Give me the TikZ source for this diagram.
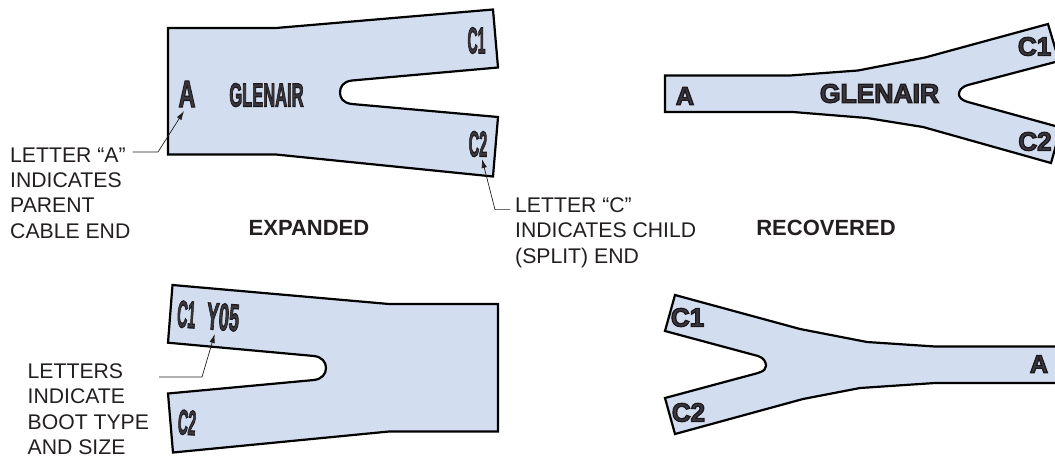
\documentclass[tikz,border=0pt]{standalone}
\usepackage{fontspec}
\usepackage{graphicx}
\setmainfont{Liberation Sans}
\usetikzlibrary{arrows.meta}
\definecolor{boot}{HTML}{D2DEEF}
\definecolor{ink}{HTML}{231F20}
\newcommand\stamp[3]{\scalebox{#1}[1]{\fontsize{#2}{#2}\selectfont\bfseries\special{pdf:code 2 Tr 1.3 w 0.12 0.10 0.11 RG 0.22 0.22 0.25 rg}#3\special{pdf:code 0 Tr 0 0 0 rg 0 0 0 RG}}}
\tikzset{
  bootshape/.style={draw=black,fill=boot,line width=2.2pt,line join=miter},
  mark text/.style={inner sep=0pt,text=ink},
  callout/.style={inner sep=0pt,anchor=north west,align=left,text=ink,font=\fontsize{21.2}{25.3}\selectfont},
  heading/.style={inner sep=0pt,text=ink,font=\fontsize{22}{25}\selectfont\bfseries},
  leader/.style={draw=ink,line width=0.7pt,-{Latex[length=9pt,width=5.5pt]}},
}
\begin{document}
\begin{tikzpicture}[x=1pt,y=-1pt]
\useasboundingbox (0,0) rectangle (1055,456);
% expanded, top
\draw[bootshape] (168,28) -- (276,28) -- (493,9.5) -- (498,67.5) -- (352,80.5)
  .. controls (343,81.5) and (340,87) .. (340,92.5)
  .. controls (340,98) and (343,103) .. (352,104)
  -- (498,117) -- (493,176.5) -- (276,154.5) -- (168,154.5) -- cycle;
\node[mark text] (tc1) at (476.5,40.5) {\stamp{.38}{37}{C1}};
\node[mark text] (tc2) at (478,144) {\stamp{.4}{36}{C2}};
\node[mark text] (ta) at (187,94) {\stamp{.62}{38}{A}};
\node[mark text] (tg) at (266.5,95) {\stamp{.5}{33}{GLENAIR}};
% recovered, top
\draw[bootshape] (665,75.5) -- (790,75.5) -- (858,70.5) -- (925,57.5) -- (1048,24) -- (1059,61) -- (968,85)
  .. controls (961,87) and (959,91) .. (959,94)
  .. controls (959,97) and (961,100) .. (968,102)
  -- (1061,127.6) -- (1051,163) -- (923,127) -- (867,118) -- (793,112) -- (665,112) -- cycle;
\node[mark text] (rc1) at (1034.5,46.5) {\stamp{1}{26}{C1}};
\node[mark text] (rc2) at (1035,141.5) {\stamp{1}{26}{C2}};
\node[mark text] (ra) at (685,96) {\stamp{1}{25}{A}};
\node[mark text] (rg) at (879.5,93.5) {\stamp{1}{26.5}{GLENAIR}};
% expanded, bottom
\draw[bootshape] (172.5,285) -- (389,304) -- (498,304) -- (498,431.5) -- (389,431.5) -- (173,452.5) -- (168,393.5) -- (314,380)
  .. controls (322,379) and (326,374) .. (326,368)
  .. controls (326,362) and (322,357) .. (314,356)
  -- (168,342.7) -- cycle;
\node[mark text,rotate=-4] (bc1) at (186.5,314.5) {\stamp{.38}{38}{C1}};
\node[mark text,rotate=-4] (by) at (223,317) {\stamp{.48}{38}{Y05}};
\node[mark text,rotate=-4] (bc2) at (187,422.5) {\stamp{.4}{35}{C2}};
% recovered, bottom
\draw[bootshape] (675,295) -- (800,329) -- (867,342) -- (935,346.5) -- (1060,346.5) -- (1060,383) -- (935,383) -- (860,388) -- (803,399) -- (675,434) -- (665,398) -- (758,373)
  .. controls (764,371) and (766,369) .. (766,366)
  .. controls (766,362) and (764,358) .. (758,356)
  -- (665,331) -- cycle;
\node[mark text] (dc1) at (687.5,317.5) {\stamp{1}{26}{C1}};
\node[mark text] (dc2) at (688.5,412.5) {\stamp{1}{26}{C2}};
\node[mark text] (da) at (1039,364) {\stamp{1}{25}{A}};
% labels
\node[callout] (la) at (10,147.5) {LETTER “A”\\INDICATES\\PARENT\\CABLE END};
\node[callout] (lc) at (515,197.5) {LETTER “C”\\INDICATES CHILD\\(SPLIT) END};
\node[callout] (ll) at (27.5,363.5) {LETTERS\\INDICATE\\BOOT TYPE\\AND SIZE};
\node[heading] (he) at (309,227.5) {EXPANDED};
\node[heading] (hr) at (826,227.5) {RECOVERED};
% leaders
\coordinate (a0) at (132.5,152); \coordinate (a1) at (158,152); \coordinate (a2) at (184,111);
\coordinate (c0) at (510,209.6); \coordinate (c1) at (495,209.6); \coordinate (c2) at (482,159);
\coordinate (y0) at (159,377); \coordinate (y1) at (202,377); \coordinate (y2) at (214.7,334);
\draw[leader] (a0) -- (a1) -- (a2);
\draw[leader] (c0) -- (c1) -- (c2);
\draw[leader] (y0) -- (y1) -- (y2);
\end{tikzpicture}
\end{document}
